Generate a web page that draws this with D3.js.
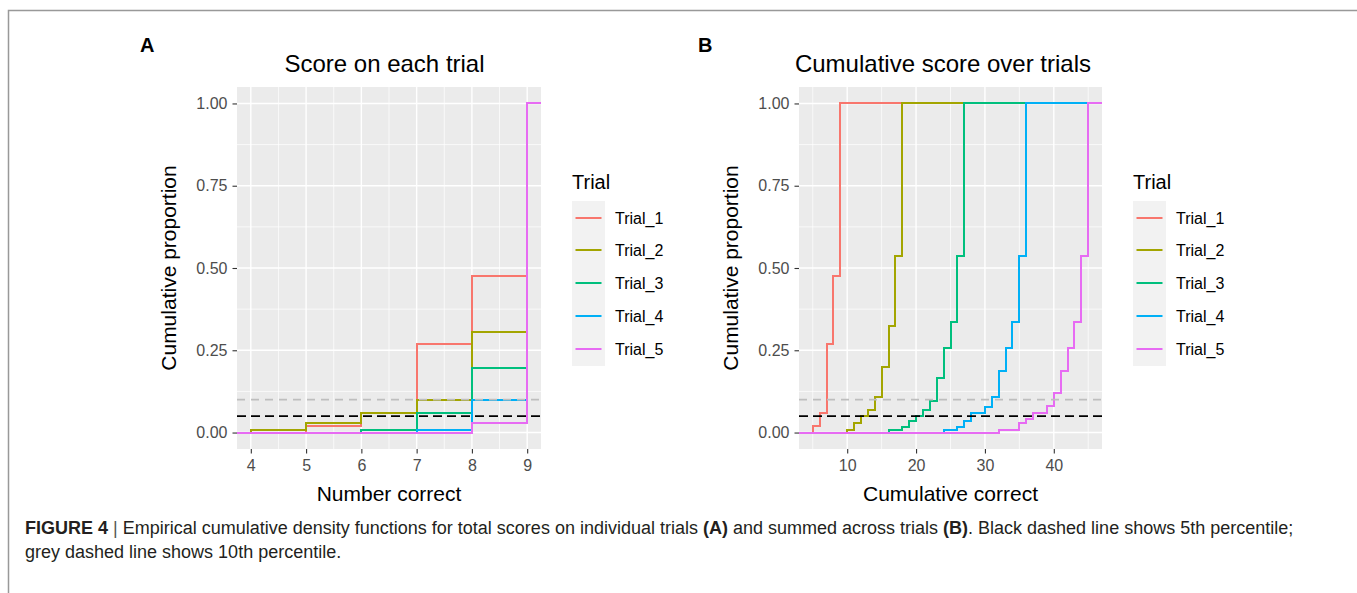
<!DOCTYPE html>
<html>
<head>
<meta charset="utf-8">
<script src="https://d3js.org/d3.v7.min.js"></script>
<style>
  body { margin: 0; background: #fff; }
  svg { font-family: "Liberation Sans", Arial, Helvetica, sans-serif; }
  .tick text { fill: #4d4d4d; font-size: 16px; }
  .tick line { stroke: #333; stroke-width: 1.1; }
</style>
</head>
<body>
<svg width="1357" height="593"></svg>
<script>
// ---- data ----
const trials = ["Trial_1", "Trial_2", "Trial_3", "Trial_4", "Trial_5"];
const colours = ["#F8766D", "#A3A500", "#00BF7D", "#00B0F6", "#E76BF3"];

// panel A: score on each trial (x = score where the ecdf steps, y = proportion after the step)
const scoreA = [4, 5, 6, 7, 8, 9];
const trial1A = [0, 0.02, 0.06, 0.27, 0.475, 1];
const trial2A = [0.008, 0.03, 0.06, 0.10, 0.305, 1];
const trial3A = [0, 0, 0.008, 0.06, 0.197, 1];
const trial4A = [0, 0, 0, 0.008, 0.10, 1];
const trial5A = [0, 0, 0, 0, 0.028, 1];

// panel B: cumulative score over trials
const trial1Bx = [5, 6, 7, 8, 9];
const trial1By = [0.02, 0.06, 0.27, 0.475, 1];
const trial2Bx = [10, 11, 12, 13, 14, 15, 16, 17, 18];
const trial2By = [0.008, 0.03, 0.049, 0.069, 0.107, 0.198, 0.325, 0.535, 1];
const trial3Bx = [16, 18, 19, 20, 21, 22, 23, 24, 25, 26, 27];
const trial3By = [0.008, 0.018, 0.036, 0.049, 0.069, 0.097, 0.167, 0.256, 0.335, 0.535, 1];
const trial4Bx = [24, 26, 27, 28, 30, 31, 32, 33, 34, 35, 36];
const trial4By = [0.008, 0.018, 0.036, 0.059, 0.077, 0.107, 0.187, 0.256, 0.335, 0.535, 1];
const trial5Bx = [32, 35, 36, 37, 39, 40, 41, 42, 43, 44, 45];
const trial5By = [0.008, 0.03, 0.04, 0.06, 0.08, 0.12, 0.187, 0.256, 0.335, 0.535, 1];

const yTicks = [0, 0.25, 0.5, 0.75, 1];
const yMinor = [0.125, 0.375, 0.625, 0.875];
const xTicksA = [4, 5, 6, 7, 8, 9];
const xMinorA = [4.5, 5.5, 6.5, 7.5, 8.5];
const xTicksB = [10, 20, 30, 40];
const xMinorB = [5, 15, 25, 35, 45];
const pct5 = 0.05, pct10 = 0.10;

const svg = d3.select("svg");

// figure frame
svg.append("path").attr("d", "M8.5,593 V10.5 H1357")
  .attr("fill", "none").attr("stroke", "#999").attr("stroke-width", 1.5);

function panel(o) {
  const x = d3.scaleLinear().domain(o.xdom).range([o.left, o.right]);
  const y = d3.scaleLinear().domain([-0.05, 1.05]).range([449, 87]);
  const g = svg.append("g");

  g.append("rect").attr("x", o.left).attr("y", 87)
    .attr("width", o.right - o.left).attr("height", 362).attr("fill", "#ebebeb");

  // grid
  g.selectAll(".ymin").data(yMinor).join("line")
    .attr("x1", o.left).attr("x2", o.right).attr("y1", y).attr("y2", y)
    .attr("stroke", "#fff").attr("stroke-width", 0.7);
  g.selectAll(".xmin").data(o.xminor).join("line")
    .attr("y1", 87).attr("y2", 449).attr("x1", x).attr("x2", x)
    .attr("stroke", "#fff").attr("stroke-width", 0.7);
  g.selectAll(".ymaj").data(yTicks).join("line")
    .attr("x1", o.left).attr("x2", o.right).attr("y1", y).attr("y2", y)
    .attr("stroke", "#fff").attr("stroke-width", 1.4);
  g.selectAll(".xmaj").data(o.xticks).join("line")
    .attr("y1", 87).attr("y2", 449).attr("x1", x).attr("x2", x)
    .attr("stroke", "#fff").attr("stroke-width", 1.4);

  // ecdf steps (snapped to whole pixels so overlapping steps stay crisp)
  const line = d3.line().curve(d3.curveStepAfter)
    .x(d => Math.round(x(d[0]))).y(d => Math.round(y(d[1])));
  o.series.forEach((s, i) => {
    const pts = [[o.xdom[0], 0]].concat(s.xs.map((v, j) => [v, s.ys[j]]), [[o.xdom[1], 1]]);
    g.append("path").datum(pts).attr("d", line)
      .attr("fill", "none").attr("stroke", colours[i]).attr("stroke-width", 2);
  });

  // percentile lines
  g.append("line").attr("x1", o.left).attr("x2", o.right)
    .attr("y1", y(pct10)).attr("y2", y(pct10))
    .attr("stroke", "#bebebe").attr("stroke-width", 1.6).attr("stroke-dasharray", "8,6");
  g.append("line").attr("x1", o.left).attr("x2", o.right)
    .attr("y1", y(pct5)).attr("y2", y(pct5))
    .attr("stroke", "#000").attr("stroke-width", 1.8).attr("stroke-dasharray", "9,5");

  // axes
  g.append("g").attr("transform", `translate(${o.left},0)`)
    .call(d3.axisLeft(y).tickValues(yTicks).tickFormat(d3.format(".2f")).tickSize(4.5).tickPadding(5))
    .call(a => a.select(".domain").remove());
  g.append("g").attr("transform", "translate(0,449)")
    .call(d3.axisBottom(x).tickValues(o.xticks).tickFormat(d3.format("d")).tickSize(4.5).tickPadding(6))
    .call(a => a.select(".domain").remove());

  // titles
  g.append("text").attr("x", o.titleX).attr("y", 71.5).attr("text-anchor", "middle")
    .attr("font-size", 24).text(o.title);
  g.append("text").attr("x", o.tagX).attr("y", 52).attr("font-size", 20)
    .attr("font-weight", "bold").text(o.tag);
  g.append("text").attr("x", (o.left + o.right) / 2).attr("y", 501).attr("text-anchor", "middle")
    .attr("font-size", 21).text(o.xlab);
  g.append("text").attr("transform", `translate(${o.left - 61},268) rotate(-90)`)
    .attr("text-anchor", "middle").attr("font-size", 21).text("Cumulative proportion");

  // legend
  const lx = o.right + 31;
  const lg = g.append("g");
  lg.append("text").attr("x", lx).attr("y", 189).attr("font-size", 20).text("Trial");
  lg.append("rect").attr("x", lx).attr("y", 201).attr("width", 33).attr("height", 165).attr("fill", "#f2f2f2");
  trials.forEach((t, i) => {
    const cy = Math.round(217.5 + i * 32.9);
    lg.append("line").attr("x1", lx + 3.5).attr("x2", lx + 29.5).attr("y1", cy).attr("y2", cy)
      .attr("stroke", colours[i]).attr("stroke-width", 2);
    lg.append("text").attr("x", lx + 43).attr("y", cy + 5.7).attr("font-size", 16).text(t);
  });
}

panel({
  left: 237, right: 541, xdom: [3.75, 9.25], xticks: xTicksA, xminor: xMinorA,
  title: "Score on each trial", titleX: 384.5, tag: "A", tagX: 140, xlab: "Number correct",
  series: [trial1A, trial2A, trial3A, trial4A, trial5A].map(ys => ({ xs: scoreA, ys: ys }))
});

panel({
  left: 799, right: 1102, xdom: [3, 47], xticks: xTicksB, xminor: xMinorB,
  title: "Cumulative score over trials", titleX: 943, tag: "B", tagX: 698, xlab: "Cumulative correct",
  series: [
    { xs: trial1Bx, ys: trial1By }, { xs: trial2Bx, ys: trial2By }, { xs: trial3Bx, ys: trial3By },
    { xs: trial4Bx, ys: trial4By }, { xs: trial5Bx, ys: trial5By }
  ]
});

// caption
const cap = svg.append("g").attr("font-size", 18).attr("fill", "#231f20");
const l1 = cap.append("text").attr("x", 25).attr("y", 534);
l1.append("tspan").attr("font-weight", "bold").text("FIGURE 4");
l1.append("tspan").attr("fill", "#555").text(" | ");
l1.append("tspan").text("Empirical cumulative density functions for total scores on individual trials ");
l1.append("tspan").attr("font-weight", "bold").text("(A)");
l1.append("tspan").text(" and summed across trials ");
l1.append("tspan").attr("font-weight", "bold").text("(B)");
l1.append("tspan").text(". Black dashed line shows 5th percentile;");
cap.append("text").attr("x", 25).attr("y", 558).text("grey dashed line shows 10th percentile.");
</script>
</body>
</html>
